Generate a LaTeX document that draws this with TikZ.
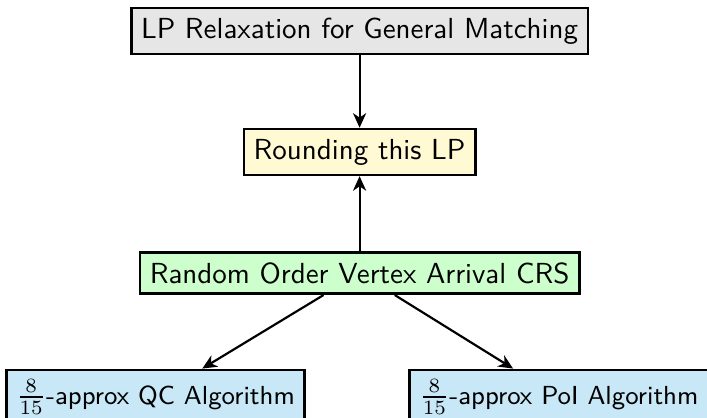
\documentclass[tikz,border=0pt]{standalone}
\usepackage{fontspec}
\usetikzlibrary{arrows.meta}
\definecolor{boxgray}{RGB}{230,230,230}
\definecolor{boxyellow}{RGB}{255,250,212}
\definecolor{boxgreen}{RGB}{204,255,204}
\definecolor{boxblue}{RGB}{200,232,248}
\newcommand{\ratiofrac}{{\normalsize$\frac{8}{15}$}}
\begin{document}
\begin{tikzpicture}[x=1pt,y=1pt,
    stagebox/.style={draw=black, line width=0.9pt, inner sep=3.4pt,
                     font=\sffamily},
    algobox/.style={stagebox, fill=boxblue, anchor=north, font=\sffamily\small},
    link/.style={-{Stealth[length=5pt,width=4.5pt,inset=1.5pt]}, line width=0.75pt}]
  \useasboundingbox (0,0) rectangle (243.8,-144.1);
  \node[stagebox, fill=boxgray]   (lp)    at (124.0,-10.7) {LP Relaxation for General Matching};
  \node[stagebox, fill=boxyellow] (round) at (124.0,-52.4) {Rounding this LP};
  \node[stagebox, fill=boxgreen]  (crs)   at (124.0,-94.2) {Random Order Vertex Arrival CRS};
  \node[algobox] (qc)  at (53.6,-127.1)  {\ratiofrac-approx QC Algorithm};
  \node[algobox] (poi) at (192.7,-127.1) {\ratiofrac-approx PoI Algorithm};
  \draw[link] (lp) -- (round);
  \draw[link] (crs) -- (round);
  \draw[link] (crs) -- (qc);
  \draw[link] (crs) -- (poi);
\end{tikzpicture}
\end{document}
